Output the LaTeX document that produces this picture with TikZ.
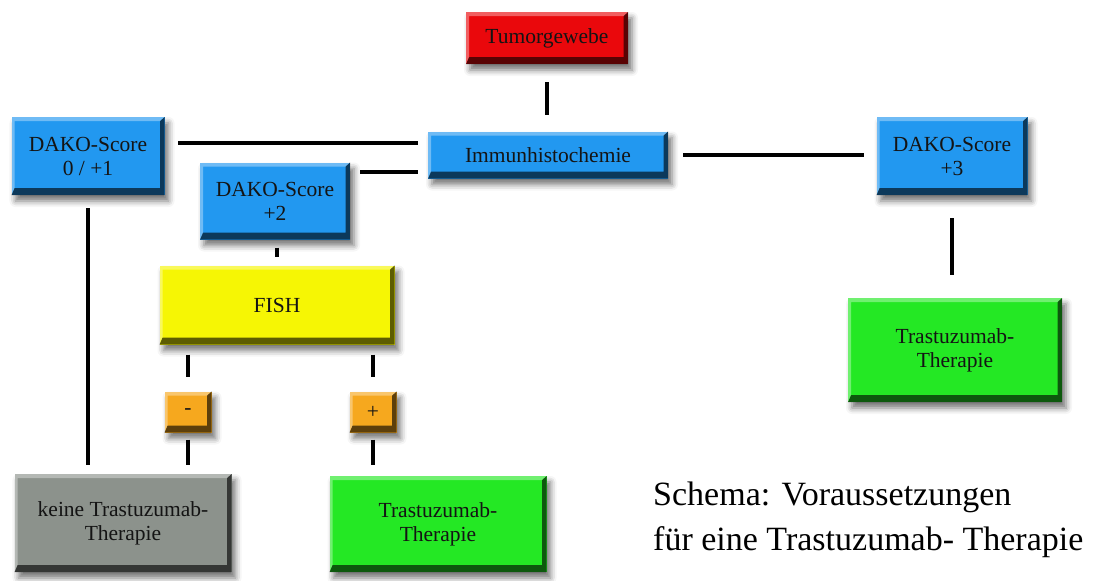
\documentclass[tikz,border=0pt]{standalone}
\usepackage{fontspec}
\setmainfont{Liberation Serif}
\usetikzlibrary{shadows.blur}
\definecolor{cRed}{RGB}{234,8,12}
\definecolor{cBlue}{RGB}{34,152,240}
\definecolor{cYellow}{RGB}{246,246,4}
\definecolor{cOrange}{RGB}{246,168,30}
\definecolor{cGray}{RGB}{140,146,140}
\definecolor{cGreen}{RGB}{36,232,36}
\tikzset{
  box/.style={rectangle, inner sep=2pt, align=center, text=black!92,
    font=\fontsize{21.5}{24}\selectfont,
    blur shadow={shadow xshift=4pt, shadow yshift=-6pt, shadow blur radius=6pt, shadow opacity=55},
    path picture={
      \fill[black, opacity=.62] (path picture bounding box.south west) -- (path picture bounding box.south east)
        -- (path picture bounding box.north east) -- ([shift={(-4.5pt,-4pt)}]path picture bounding box.north east)
        -- ([shift={(-4.5pt,7pt)}]path picture bounding box.south east) -- ([shift={(3pt,7pt)}]path picture bounding box.south west) -- cycle;
      \fill[white, opacity=.35] (path picture bounding box.south west) -- (path picture bounding box.north west)
        -- (path picture bounding box.north east) -- ([shift={(-4.5pt,-4pt)}]path picture bounding box.north east)
        -- ([shift={(3pt,-4pt)}]path picture bounding box.north west) -- ([shift={(3pt,7pt)}]path picture bounding box.south west) -- cycle;
    }},
  conn/.style={line width=3.5pt, black},
}
\begin{document}
\begin{tikzpicture}[x=1pt,y=-1pt]
\useasboundingbox (0,0) rectangle (1098,581);
% nodes
\node[box, fill=cRed, minimum width=162pt, minimum height=52pt] (tumor) at (547,38) {Tumorgewebe};
\node[box, fill=cBlue, minimum width=240pt, minimum height=47pt] (immuno) at (548,155) {Immunhistochemie};
\node[box, fill=cBlue, minimum width=153pt, minimum height=78pt] (dakoA) at (88,156) {DAKO-Score\\0 / +1};
\node[box, fill=cBlue, minimum width=150pt, minimum height=77pt] (dakoB) at (275,201) {DAKO-Score\\+2};
\node[box, fill=cBlue, minimum width=151pt, minimum height=78pt] (dakoC) at (952,156) {DAKO-Score\\+3};
\node[box, fill=cGreen, minimum width=214pt, minimum height=104pt] (therR) at (955,350) {Trastuzumab-\\Therapie};
\node[box, fill=cYellow, minimum width=235pt, minimum height=79pt] (fish) at (277,305) {FISH};
\node[box, fill=cOrange, minimum width=47pt, minimum height=41pt] (minus) at (188,412) {-};
\node[box, fill=cOrange, minimum width=47pt, minimum height=41pt] (plus) at (373,412) {+};
\node[box, fill=cGray, minimum width=217pt, minimum height=98pt] (keine) at (123,523) {keine Trastuzumab-\\Therapie};
\node[box, fill=cGreen, minimum width=217pt, minimum height=96pt] (therL) at (438,524) {Trastuzumab-\\Therapie};
\node[anchor=north west, align=left, inner sep=0pt, font=\fontsize{34}{45}\selectfont] (caption) at (653,482)
  {Schema: Voraussetzungen\\f\"ur eine Trastuzumab- Therapie};
% connectors
\coordinate (iA) at ([yshift=12pt]immuno.west);
\coordinate (iB) at ([yshift=-17pt]immuno.west);
\draw[conn, shorten <=18pt, shorten >=16pt] (tumor.south) -- (tumor.south |- immuno.north);
\draw[conn, shorten <=10pt, shorten >=13pt] (iA) -- (dakoA.east |- iA);
\draw[conn, shorten <=10pt, shorten >=10pt] (iB) -- (dakoB.east |- iB);
\draw[conn, shorten <=15pt, shorten >=12pt] (immuno.east) -- (dakoC.west |- immuno.east);
\draw[conn, shorten <=23pt, shorten >=23pt] (dakoC.south) -- (dakoC.south |- therR.north);
\draw[conn, shorten <=13pt, shorten >=9pt] (dakoA.south) -- (dakoA.south |- keine.north);
\draw[conn, shorten <=8pt, shorten >=8pt] (dakoB.south -| fish.north) -- (fish.north);
\draw[conn, shorten <=10pt, shorten >=14pt] (minus.north |- fish.south) -- (minus.north);
\draw[conn, shorten <=10pt, shorten >=14pt] (plus.north |- fish.south) -- (plus.north);
\draw[conn, shorten <=7pt, shorten >=9pt] (minus.south) -- (minus.south |- keine.north);
\draw[conn, shorten <=7pt, shorten >=11pt] (plus.south) -- (plus.south |- therL.north);
\end{tikzpicture}
\end{document}
